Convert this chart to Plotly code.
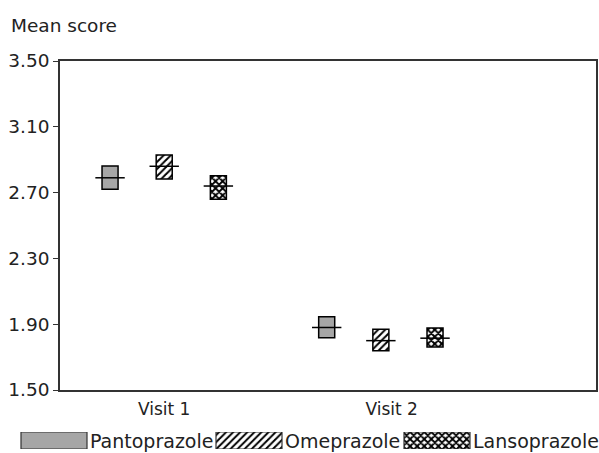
import plotly.graph_objects as go

# ---- data ----
visits = ["Visit 1", "Visit 2"]
drugs = ["Pantoprazole", "Omeprazole", "Lansoprazole"]
mean_scores = {
    "Pantoprazole": [2.79, 1.88],
    "Omeprazole": [2.86, 1.80],
    "Lansoprazole": [2.74, 1.815],
}
lower_bound = {
    "Pantoprazole": [2.72, 1.818],
    "Omeprazole": [2.783, 1.739],
    "Lansoprazole": [2.659, 1.761],
}
upper_bound = {
    "Pantoprazole": [2.862, 1.946],
    "Omeprazole": [2.929, 1.869],
    "Lansoprazole": [2.803, 1.877],
}
y_ticks = [1.50, 1.90, 2.30, 2.70, 3.10, 3.50]

# ---- styles ----
W, H = 599, 453
FONT = "DejaVu Sans"
TXT = "#222222"
AX = "#333333"
styles = {
    "Pantoprazole": dict(color="#a6a6a6", pattern=dict(shape="")),
    "Omeprazole": dict(color="white", pattern=dict(shape="/", fgcolor="black", bgcolor="white",
                                                   size=5, solidity=0.4, fillmode="replace")),
    "Lansoprazole": dict(color="white", pattern=dict(shape="x", fgcolor="black", bgcolor="white",
                                                     size=5, solidity=0.62, fillmode="replace")),
}
offsets = {"Pantoprazole": -0.25, "Omeprazole": 0.0, "Lansoprazole": 0.25}
group_pos = [1, 2]
bar_w = 0.074

fig = go.Figure()
for d in drugs:
    xs = [g + offsets[d] for g in group_pos]
    fig.add_trace(go.Bar(
        x=xs,
        y=[u - l for u, l in zip(upper_bound[d], lower_bound[d])],
        base=lower_bound[d],
        width=bar_w,
        marker=dict(color=styles[d]["color"], pattern=styles[d]["pattern"],
                    line=dict(color="black", width=1.5)),
        showlegend=False, name=d, xaxis="x", yaxis="y",
    ))
for d in drugs:
    xs = [g + offsets[d] for g in group_pos]
    fig.add_trace(go.Scatter(
        x=xs, y=mean_scores[d], mode="markers",
        marker=dict(symbol="line-ew", size=21, color="black",
                    line=dict(color="black", width=1.5)),
        showlegend=False, name=d, xaxis="x", yaxis="y",
    ))

# ---- custom legend (large swatches) ----
sw_left = [21, 216, 404]
sw_w = 66
for d, xl in zip(drugs, sw_left):
    fig.add_trace(go.Bar(
        x=[xl + sw_w / 2], y=[1], base=[0], width=sw_w,
        marker=dict(color=styles[d]["color"], pattern=styles[d]["pattern"],
                    line=dict(color="#333333", width=1.2)),
        showlegend=False, hoverinfo="skip", xaxis="x2", yaxis="y2",
    ))
    fig.add_annotation(text=d, x=xl + sw_w + 1, y=0.5, xref="x2", yref="y2",
                       xanchor="left", yanchor="middle", showarrow=False,
                       font=dict(family=FONT, size=19, color=TXT))

fig.add_annotation(text="Mean score", x=9 / W, y=1 - 26 / H, xref="paper", yref="paper",
                   xanchor="left", yanchor="middle", showarrow=False,
                   font=dict(family=FONT, size=18.5, color=TXT))

fig.update_layout(
    template="none",
    width=W, height=H,
    margin=dict(l=0, r=0, t=0, b=0, autoexpand=False),
    paper_bgcolor="white", plot_bgcolor="white",
    font=dict(family=FONT, size=17, color=TXT),
    barmode="overlay",
    xaxis=dict(domain=[60 / W, 596 / W], range=[0.519, 2.993], anchor="y",
               tickvals=[1.0, 2.05], ticktext=visits, ticks="", automargin=False,
               ticklabelstandoff=3, tickfont=dict(size=17),
               showline=True, linecolor=AX, linewidth=1.5, mirror=True,
               showgrid=False, zeroline=False, fixedrange=True),
    yaxis=dict(domain=[1 - 390 / H, 1 - 61 / H], range=[1.5, 3.5], anchor="x",
               tickvals=y_ticks, tickformat=".2f", ticks="outside", ticklen=5,
               tickcolor=AX, tickwidth=1.2, automargin=False, tickfont=dict(size=18.5),
               showline=True, linecolor=AX, linewidth=1.5, mirror=True,
               showgrid=False, zeroline=False),
    xaxis2=dict(domain=[0, 1], range=[0, W], anchor="y2", visible=False, automargin=False),
    yaxis2=dict(domain=[1 - 449 / H, 1 - 432 / H], range=[0, 1], anchor="x2", visible=False,
                automargin=False),
)

fig.write_html("out.html", config={"displayModeBar": False},
               post_script="document.body.style.margin='0';document.body.style.overflow='hidden';")
